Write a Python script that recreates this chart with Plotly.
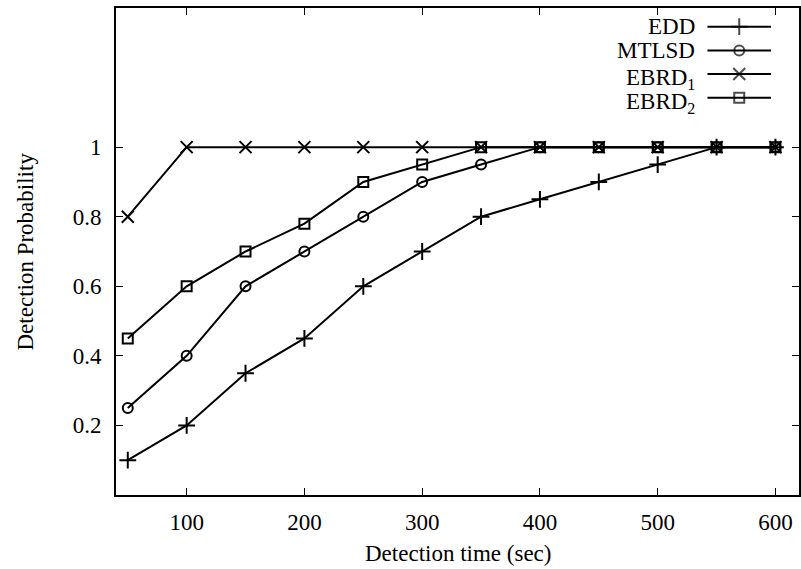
import plotly.graph_objects as go

# Detection probability vs. detection time for four schemes
detection_time = [50, 100, 150, 200, 250, 300, 350, 400, 450, 500, 550, 600]
edd = [0.10, 0.20, 0.35, 0.45, 0.60, 0.70, 0.80, 0.85, 0.90, 0.95, 1.00, 1.00]
mtlsd = [0.25, 0.40, 0.60, 0.70, 0.80, 0.90, 0.95, 1.00, 1.00, 1.00, 1.00, 1.00]
ebrd1 = [0.80, 1.00, 1.00, 1.00, 1.00, 1.00, 1.00, 1.00, 1.00, 1.00, 1.00, 1.00]
ebrd2 = [0.45, 0.60, 0.70, 0.78, 0.90, 0.95, 1.00, 1.00, 1.00, 1.00, 1.00, 1.00]

series_names = ["EDD", "MTLSD", "EBRD<sub>1</sub>", "EBRD<sub>2</sub>"]
series_values = [edd, mtlsd, ebrd1, ebrd2]
symbols = ["cross-thin-open", "circle-open", "x-thin-open", "square-open"]
sizes = [12, 10, 12, 10]

x_ticks = [100, 200, 300, 400, 500, 600]
y_ticks = [0.2, 0.4, 0.6, 0.8, 1.0]
y_tick_text = ["0.2", "0.4", "0.6", "0.8", "1"]

FONT = "Liberation Serif, Times New Roman, serif"
FSIZE = 23
LINE_W = 2
ML, MR, MT, MB = 116, 0, 8, 74
W, H = 801, 569
PLOT_H = H - MT - MB

fig = go.Figure()

for name, vals, sym, sz in zip(series_names, series_values, symbols, sizes):
    fig.add_trace(go.Scatter(
        x=detection_time, y=vals, mode="lines+markers", name=name,
        line=dict(color="black", width=LINE_W),
        marker=dict(symbol=sym, size=sz, color="black",
                    line=dict(color="black", width=LINE_W)),
        showlegend=False,
    ))

# gnuplot-style key: right-aligned label followed by a line sample with marker
key_text_x = 0.851
key_line_x0, key_line_x1 = 0.866, 0.959
key_rows_px = [26.7, 50.4, 74.0, 97.7]
key_rows = [(H - MB - py) / PLOT_H for py in key_rows_px]
annotations = []
for name, sym, sz, ky in zip(series_names, symbols, sizes, key_rows):
    mid = (key_line_x0 + key_line_x1) / 2
    fig.add_trace(go.Scatter(
        x=[key_line_x0, mid, key_line_x1], y=[ky, ky, ky],
        xaxis="x2", yaxis="y2", mode="lines+markers",
        line=dict(color="black", width=LINE_W),
        marker=dict(symbol=sym, size=[0, sz, 0], color="black",
                    line=dict(color="black", width=LINE_W)),
        showlegend=False, hoverinfo="skip",
    ))
    has_sub = "<sub>" in name
    annotations.append(dict(
        x=key_text_x, y=ky, xref="paper", yref="paper",
        text=name, showarrow=False, xanchor="right", yanchor="middle",
        yshift=-5 if has_sub else 0,
        font=dict(family=FONT, size=FSIZE, color="black"),
    ))

# axis titles
annotations.append(dict(
    x=0.5, y=0, xref="paper", yref="paper", text="Detection time (sec)",
    showarrow=False, xanchor="center", yanchor="middle", yshift=-58,
    font=dict(family=FONT, size=FSIZE, color="black"),
))
annotations.append(dict(
    x=0, y=0.5, xref="paper", yref="paper", text="Detection Probability",
    showarrow=False, xanchor="center", yanchor="middle", xshift=25 - ML,
    textangle=-90, font=dict(family=FONT, size=FSIZE, color="black"),
))

axis_common = dict(
    showline=True, linecolor="black", linewidth=1.6, mirror="ticks",
    ticks="inside", ticklen=7, tickwidth=1.3, tickcolor="black",
    showgrid=False, zeroline=False,
    tickfont=dict(family=FONT, size=FSIZE, color="black"),
)

fig.update_layout(
    width=W, height=H,
    margin=dict(l=ML, r=MR, t=MT, b=MB),
    plot_bgcolor="white", paper_bgcolor="white",
    xaxis=dict(range=[40, 620], tickvals=x_ticks, ticklabelstandoff=6, **axis_common),
    yaxis=dict(range=[0, 1.4], tickvals=y_ticks, ticktext=y_tick_text,
               ticklabelstandoff=8, **axis_common),
    xaxis2=dict(overlaying="x", range=[0, 1], visible=False),
    yaxis2=dict(overlaying="y", range=[0, 1], visible=False),
    annotations=annotations,
)

fig.write_html("out.html")
